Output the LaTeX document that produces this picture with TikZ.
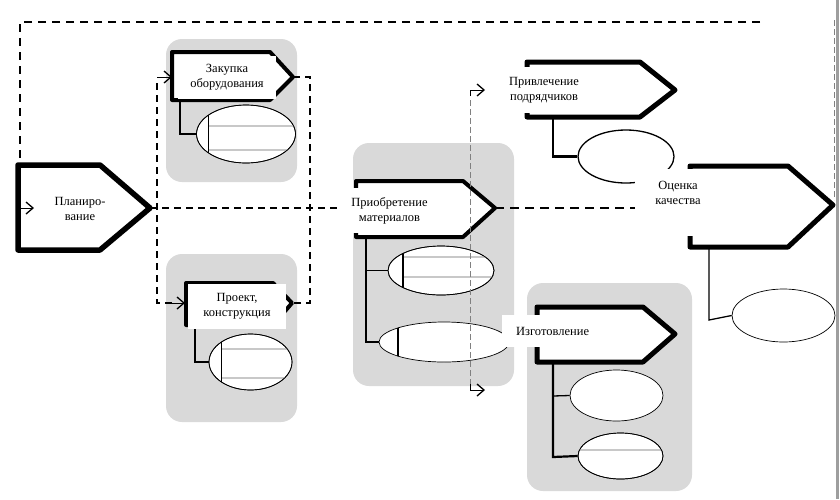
\documentclass[tikz,border=0pt]{standalone}
\usepackage{fontspec}
\setmainfont{Liberation Serif}
\usetikzlibrary{shapes.geometric,arrows.meta}
\definecolor{grpgray}{HTML}{D9D9D9}
\definecolor{inlinegray}{HTML}{C8C8C8}
\begin{document}
\begin{tikzpicture}[x=1pt,y=-1pt,
  grp/.style={fill=grpgray,draw=none,rounded corners=16pt},
  pentbox/.style={line width=4.5pt,line join=round,draw=black,fill=white},
  elli/.style={ellipse,draw=black,fill=white,line width=0.7pt,inner sep=0pt},
  conn/.style={line width=1.3pt},
  dashln/.style={dashed,dash pattern=on 7pt off 5pt,line width=1.1pt},
  grayln/.style={dashed,dash pattern=on 6pt off 3pt,line width=1pt,draw=black!50},
  oarr/.style={-{Straight Barb[length=7pt,width=12pt,line width=1.3pt]}},
  lbl/.style={fill=white,inner sep=0pt,align=center,font=\rmfamily\fontsize{12.5}{15}\selectfont},
  inl/.style={draw=inlinegray,line width=1.5pt}
]
\useasboundingbox (0,0) rectangle (840,499);

% groups
\fill[grp] (166,39) rectangle (297,182);
\fill[grp] (166,254) rectangle (297,422);
\fill[grp] (353,143) rectangle (514,386);
\fill[grp] (527,283) rectangle (692,491);

% right border
\draw[draw=black!38,line width=2.5pt] (837.5,0) -- (837.5,499);
\draw[grayln,line width=0.8pt] (834,20) -- (834,200);

% feedback dashed line into Planning
\coordinate (fbA) at (760,22);
\coordinate (fbB) at (20,22);
\coordinate (fbC) at (20,208);
\coordinate (plIn) at (34,208);
\draw[dashln,dash pattern=on 8pt off 6pt] (fbA) -- (fbB) -- (20,165);

% Planning box
\coordinate (plTip) at (150,208);
\draw[pentbox,line width=5.5pt] (18,250) -- (18,165) -- (100,165) -- (plTip) -- (100,250) -- cycle;
\draw[oarr] (fbC) -- (plIn);
\node[lbl,fill=none] (pl) at (80,209) {Планиро-\\вание};

% dashed lines from Planning
\coordinate (zakIn) at (172,77);
\coordinate (proIn) at (185,303);
\coordinate (priL) at (340,208);
\draw[dashln] (plTip) -- (priL);
\draw[dashln] (157,83) -- (157,303) -- (172,303);
\draw[oarr] (157,77) -- (zakIn);
\draw[oarr] (168,303) -- (proIn);

% Zakupka
\coordinate (zakTip) at (293,77);
\coordinate (proTip) at (292,303);
\draw[dashln] (zakTip) -- (310,77) -- (310,303) -- (proTip);
\node[elli,minimum width=99pt,minimum height=58pt] (ze) at (246,134) {};
\begin{scope}
  \clip (246,134) ellipse [x radius=49.5pt,y radius=29pt];
  \draw[inl] (208,126) -- (300,126);
  \draw[inl] (208,150) -- (300,150);
  \draw[line width=1pt] (208,100) -- (208,170);
\end{scope}
\draw[line width=0.7pt] (ze.center) ellipse [x radius=49.5pt,y radius=29pt];
\draw[conn] (180,100) -- (180,134) -- (ze.west);
\draw[pentbox,line width=4pt] (172,100) -- (172,52) -- (270,52) -- (zakTip) -- (270,100) -- cycle;
\node[lbl,minimum width=98pt,minimum height=43pt] (zak) at (227,77.5) {Закупка\\оборудования};

% Proekt
\node[elli,minimum width=83pt,minimum height=56pt] (pe) at (250.5,362) {};
\begin{scope}
  \clip (250.5,362) ellipse [x radius=41.5pt,y radius=28pt];
  \draw[inl] (221,349) -- (300,349);
  \draw[inl] (221,378) -- (300,378);
  \draw[line width=1pt] (221,330) -- (221,395);
\end{scope}
\draw[line width=0.7pt] (pe.center) ellipse [x radius=41.5pt,y radius=28pt];
\draw[conn] (195,329) -- (195,362) -- (pe.west);
\draw[pentbox,line width=4pt] (186,325) -- (186,283) -- (273,283) -- (proTip) -- (273,325) -- cycle;
\node[lbl,minimum width=98pt,minimum height=45pt] (pro) at (237,306.5) {Проект,\\конструкция};

% Priobretenie
\coordinate (priTip) at (495,208);
\node[elli,minimum width=106pt,minimum height=49pt] (m1) at (441,270.5) {};
\begin{scope}
  \clip (441,270.5) ellipse [x radius=53pt,y radius=24.5pt];
  \draw[inl] (403,257) -- (500,257);
  \draw[inl] (403,277) -- (500,277);
  \draw[line width=1.8pt] (403,240) -- (403,300);
\end{scope}
\draw[line width=0.7pt] (m1.center) ellipse [x radius=53pt,y radius=24.5pt];
\node[elli,minimum width=130pt,minimum height=40pt] (m2) at (444,342) {};
\begin{scope}
  \clip (444,342) ellipse [x radius=65pt,y radius=20pt];
  \draw[line width=1.8pt] (398,315) -- (398,370);
\end{scope}
\draw[conn] (366,237) -- (366,342) -- (m2.west);
\draw[conn] (366,270.5) -- (m1.west);
\draw[pentbox,line width=4pt] (356,237) -- (356,181) -- (463,181) -- (priTip) -- (463,237) -- cycle;
\node[lbl,minimum width=85pt,minimum height=45pt] (pri) at (389.5,210.5) {Приобретение\\материалов};

% gray dashed vertical with arrows
\coordinate (gTop) at (485,90);
\coordinate (gBot) at (485,390);
\draw[grayln] (470,100) -- (470,384);
\draw[oarr,line width=1pt] (470,96) -- (470,90) -- (gTop);
\draw[oarr,line width=1pt] (470,384) -- (470,390) -- (gBot);

% Privlechenie
\coordinate (prvTip) at (675,90);
\node[elli,minimum width=96pt,minimum height=53pt,line width=1.3pt] (pve) at (626,156.5) {};
\draw[conn,line width=2.2pt] (553,117) -- (553,156.5) -- (pve.west);
\draw[pentbox,line width=5pt] (527,117) -- (527,62) -- (640,62) -- (prvTip) -- (640,117) -- cycle;
\node[lbl,minimum width=88pt,minimum height=46pt] (prv) at (544,90) {Привлечение\\подрядчиков};

% dashed from Priobretenie to Ocenka
\draw[dashln,line width=1.2pt,dash pattern=on 9pt off 6pt] (priTip) -- (640,208);

% Ocenka
\coordinate (ocTip) at (833,205);
\node[elli,minimum width=103pt,minimum height=53pt] (oe) at (783.5,315.5) {};
\draw[conn] (709,247) -- (709,320) -- (oe.west);
\draw[pentbox,line width=5pt] (690,247) -- (690,166) -- (788,166) -- (ocTip) -- (788,247) -- cycle;
\fill[white] (635,169) rectangle (720,236);
\node[lbl,fill=none] (oc) at (678,193) {Оценка\\качества};

% Izgotovlenie
\coordinate (izTip) at (675,334);
\node[elli,minimum width=93pt,minimum height=51pt] (i1) at (616.5,395.5) {};
\node[elli,minimum width=85pt,minimum height=46pt] (i2) at (620.5,456) {};
\begin{scope}
  \clip (620.5,456) ellipse [x radius=42.5pt,y radius=23pt];
  \draw[inl] (578,450) -- (670,450);
\end{scope}
\draw[line width=0.7pt] (i2.center) ellipse [x radius=42.5pt,y radius=23pt];
\draw[conn,line width=2.2pt] (553,362) -- (553,457) -- (i2.west);
\draw[conn] (553,396) -- (i1.west);
\draw[pentbox,line width=5pt] (537,362) -- (537,307) -- (643,307) -- (izTip) -- (643,362) -- cycle;
\fill[white] (502,315) rectangle (600,347);
\node[lbl,fill=none,anchor=west] (iz) at (516,331) {Изготовление};
\end{tikzpicture}
\end{document}
